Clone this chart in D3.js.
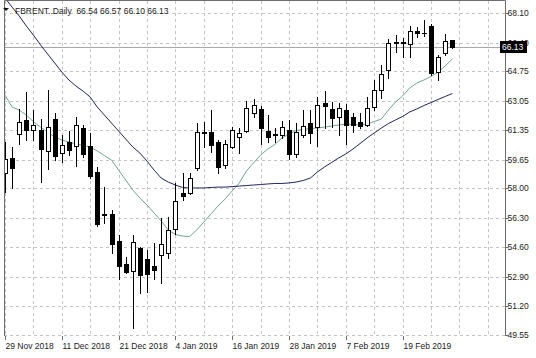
<!DOCTYPE html>
<html><head><meta charset="utf-8">
<script src="https://cdn.jsdelivr.net/npm/d3@7/dist/d3.min.js"></script>
<style>html,body{margin:0;padding:0;background:#fff}svg{display:block}</style>
</head><body>
<svg id="c" width="536" height="358"></svg>
<script>
const dates = ["2018-11-29","2018-11-30","2018-12-03","2018-12-04","2018-12-05","2018-12-06","2018-12-07","2018-12-10","2018-12-11","2018-12-12","2018-12-13","2018-12-14","2018-12-17","2018-12-18","2018-12-19","2018-12-20","2018-12-21","2018-12-24","2018-12-26","2018-12-27","2018-12-28","2018-12-31","2019-01-02","2019-01-03","2019-01-04","2019-01-07","2019-01-08","2019-01-09","2019-01-10","2019-01-11","2019-01-14","2019-01-15","2019-01-16","2019-01-17","2019-01-18","2019-01-21","2019-01-22","2019-01-23","2019-01-24","2019-01-25","2019-01-28","2019-01-29","2019-01-30","2019-01-31","2019-02-01","2019-02-04","2019-02-05","2019-02-06","2019-02-07","2019-02-08","2019-02-11","2019-02-12","2019-02-13","2019-02-14","2019-02-15","2019-02-18","2019-02-19","2019-02-20","2019-02-21","2019-02-22","2019-02-25","2019-02-26","2019-02-27","2019-02-28"];
const opens  = [58.90,59.73,61.13,61.93,61.36,61.36,60.15,61.97,60.02,60.65,60.44,61.47,60.44,58.94,56.52,56.50,54.98,53.62,53.24,54.58,53.91,53.52,54.16,54.29,55.64,57.75,57.71,59.15,61.19,61.26,60.68,59.34,60.40,60.97,61.32,62.36,62.55,61.32,61.10,61.09,61.36,59.98,61.07,61.74,61.55,62.90,62.57,62.09,62.51,62.09,61.84,61.65,62.68,63.66,64.81,66.38,66.40,66.30,67.04,66.95,67.37,64.72,65.78,66.54];
const highs  = [60.68,60.40,62.55,63.56,62.51,61.97,63.66,62.36,61.07,61.30,62.11,61.65,61.20,59.21,58.09,56.75,55.31,54.06,55.31,54.64,54.45,54.83,56.27,56.36,58.29,58.90,58.88,61.74,61.84,62.51,60.78,60.78,61.55,61.49,63.05,63.14,62.74,62.22,61.46,61.89,61.93,61.74,62.51,62.51,63.24,63.62,62.99,62.90,62.86,62.32,62.32,63.28,64.24,65.10,66.58,66.83,66.64,67.35,67.27,67.70,67.46,65.68,66.89,66.57];
const lows   = [57.80,58.00,60.55,60.78,60.78,58.38,59.09,59.63,59.53,59.92,59.29,59.80,58.59,55.83,55.98,54.27,52.76,53.14,49.94,51.95,52.04,52.76,52.53,53.97,55.37,57.33,57.66,59.05,60.40,60.11,58.90,59.15,60.30,60.02,61.26,62.12,60.55,60.68,60.68,60.88,59.67,59.82,60.94,60.59,60.44,61.46,61.55,61.07,60.55,61.26,61.46,61.59,62.51,63.18,64.34,65.87,65.58,65.58,66.73,66.77,64.53,64.24,65.68,66.10];
const closes = [59.69,59.15,61.84,61.36,61.63,60.25,61.51,59.86,60.49,60.21,61.63,59.98,58.71,55.94,56.49,54.77,53.52,53.20,54.89,53.01,53.06,53.29,54.79,55.60,57.29,57.56,58.62,61.26,61.22,60.49,59.21,60.55,61.36,61.17,62.61,62.80,61.49,60.94,61.12,61.53,59.98,61.23,61.61,61.17,62.80,62.76,62.03,62.61,61.65,61.65,61.61,62.61,63.68,64.58,66.35,66.41,66.42,67.08,66.93,66.92,64.66,65.58,66.50,66.13];
const maSlow = [68.96,68.44,67.93,67.35,66.83,66.26,65.74,65.22,64.70,64.24,63.89,63.60,63.26,62.68,62.22,61.76,61.30,60.84,60.38,60.03,59.57,59.05,58.59,58.36,58.19,58.05,58.02,58.02,58.02,58.05,58.07,58.07,58.10,58.13,58.16,58.19,58.22,58.25,58.28,58.28,58.31,58.36,58.45,58.59,58.94,59.23,59.49,59.75,59.98,60.26,60.58,60.90,61.19,61.47,61.73,61.94,62.14,62.40,62.57,62.77,62.94,63.12,63.29,63.46];
const maFast = [63.37,62.68,62.51,62.22,61.84,61.53,61.24,60.96,60.78,60.67,60.55,60.47,60.38,60.15,59.89,59.63,59.05,58.48,57.90,57.44,57.04,56.58,56.12,55.60,55.34,55.25,55.22,55.60,56.06,56.52,56.98,57.38,57.85,58.31,59.00,59.46,59.92,60.26,60.52,60.90,61.13,61.33,61.39,61.45,61.47,61.53,61.59,61.65,61.70,61.68,61.65,61.70,61.85,61.99,62.51,62.97,63.32,63.78,64.07,64.24,64.44,64.70,65.05,65.45];
const priceTicks = [49.55,51.20,52.90,54.60,56.30,58.00,59.65,61.35,63.05,64.75,66.40,68.10];
const priceTickLabels = ["49.55","51.20","52.90","54.60","56.30","58.00","59.65","61.35","63.05","64.75","66.40","68.10"];
const dateTicks = ["2018-11-29","2018-12-11","2018-12-21","2019-01-04","2019-01-16","2019-01-28","2019-02-07","2019-02-19"];
const dateTickLabels = ["29 Nov 2018","11 Dec 2018","21 Dec 2018","4 Jan 2019","16 Jan 2019","28 Jan 2019","7 Feb 2019","19 Feb 2019"];
const headerText = "FBRENT..Daily";
const lastPrice = 66.13;

const svg = d3.select("#c");
const L = 4, R = 505, T = 0.5, B = 336;
const xi = d3.scaleLinear().domain([0, dates.length - 1]).range([5, 452.3]);
const x = d => xi(dates.indexOf(d));
const y = d3.scaleLinear().domain([49.55, 68.10]).range([335, 13]);
const font = "'Liberation Sans', Arial, sans-serif";
const txt = "#222";

svg.append("defs").append("clipPath").attr("id","clip")
  .append("rect").attr("x", L).attr("y", 1).attr("width", R - L).attr("height", B - 1);

// grid
const g = svg.append("g");
const vIdx = d3.range(0, 80, 4).filter(i => xi(i) < R - 1);
g.selectAll("line.vg").data(vIdx).join("line")
  .attr("x1", i => Math.round(xi(i)) + 0.5).attr("x2", i => Math.round(xi(i)) + 0.5)
  .attr("y1", 1).attr("y2", B)
  .attr("stroke", "#c4c4c4").attr("stroke-dasharray", "3,3");
g.selectAll("line.hg").data(priceTicks).join("line")
  .attr("x1", L).attr("x2", R)
  .attr("y1", d => Math.round(y(d)) + 0.5).attr("y2", d => Math.round(y(d)) + 0.5)
  .attr("stroke", "#c4c4c4").attr("stroke-dasharray", "3,3");

// price line
svg.append("line").attr("x1", L).attr("x2", R)
  .attr("y1", Math.round(y(lastPrice)) + 0.5).attr("y2", Math.round(y(lastPrice)) + 0.5)
  .attr("stroke", "#a8a8a8");

const plot = svg.append("g").attr("clip-path", "url(#clip)");

// moving averages
const lineGen = arr => d3.line().x((d, i) => xi(i)).y(d => y(d))(arr);
plot.append("path").attr("d", lineGen(maFast)).attr("fill", "none")
  .attr("stroke", "#6fa59a").attr("stroke-width", 1);
plot.append("path").attr("d", lineGen(maSlow)).attr("fill", "none")
  .attr("stroke", "#23235c").attr("stroke-width", 1);

// candles
const bars = dates.map((d, i) => ({d, i, o: opens[i], h: highs[i], l: lows[i], c: closes[i]}));
const cg = plot.selectAll("g.c").data(bars).join("g");
cg.append("line")
  .attr("x1", b => Math.round(x(b.d)) + 0.5).attr("x2", b => Math.round(x(b.d)) + 0.5)
  .attr("y1", b => Math.round(y(b.h))).attr("y2", b => Math.round(y(b.l)) + 1)
  .attr("stroke", "#000");
cg.each(function(b) {
  const px = Math.round(x(b.d));
  const top = Math.round(y(Math.max(b.o, b.c)));
  const bot = Math.round(y(Math.min(b.o, b.c)));
  const sel = d3.select(this);
  if (bot - top < 1) {
    sel.append("line").attr("x1", px - 2).attr("x2", px + 3)
      .attr("y1", top + 0.5).attr("y2", top + 0.5).attr("stroke", "#000");
  } else {
    sel.append("rect").attr("x", px - 1.5).attr("y", top + 0.5)
      .attr("width", 4).attr("height", bot - top)
      .attr("fill", b.c >= b.o ? "#fff" : "#000").attr("stroke", "#000");
  }
});

// frame
svg.append("path").attr("d", `M${L + 0.5},${B} V${T} H${R + 0.5} V${B}`)
  .attr("fill", "none").attr("stroke", "#6e6e6e");

// right axis
const ra = svg.append("g");
ra.selectAll("line").data(priceTicks).join("line")
  .attr("x1", R + 0.5).attr("x2", R + 3.5)
  .attr("y1", d => Math.round(y(d)) + 0.5).attr("y2", d => Math.round(y(d)) + 0.5)
  .attr("stroke", "#6e6e6e");
// hide the label that the last-price box covers, like the reference (it is drawn under the box)
ra.selectAll("text").data(priceTicks).join("text")
  .attr("x", R + 2.5).attr("y", d => y(d) + 3)
  .attr("font-family", font).attr("font-size", 8.5).attr("fill", txt)
  .text((d, i) => priceTickLabels[i]);

// last price box
const ly = y(lastPrice);
svg.append("rect").attr("x", 500).attr("y", Math.round(ly) - 6).attr("width", 27).attr("height", 12).attr("fill", "#000");
svg.append("text").attr("x", 502).attr("y", ly + 3)
  .attr("font-family", font).attr("font-size", 8.5).attr("fill", "#fff")
  .text(d3.format(".2f")(lastPrice));

// bottom axis
const ba = svg.append("g");
ba.selectAll("line").data(dateTicks).join("line")
  .attr("x1", d => Math.round(x(d)) + 0.5).attr("x2", d => Math.round(x(d)) + 0.5)
  .attr("y1", B).attr("y2", B + 4).attr("stroke", "#6e6e6e");
ba.selectAll("text").data(dateTicks).join("text")
  .attr("x", d => Math.round(x(d)) + 0.5).attr("y", 348.5)
  .attr("font-family", font).attr("font-size", 8.5).attr("fill", txt)
  .text((d, i) => dateTickLabels[i]);

// header
const last = bars[bars.length - 1];
svg.append("path").attr("d", "M3,8 H9 L6,11 Z").attr("fill", "#111");
svg.append("text").attr("x", 15).attr("y", 13.5)
  .attr("font-family", font).attr("font-size", 8.5).attr("fill", txt)
  .attr("xml:space", "preserve")
  .text(`${headerText}  ${[last.o, last.h, last.l, last.c].map(d3.format(".2f")).join(" ")}`);
</script>
</body></html>
